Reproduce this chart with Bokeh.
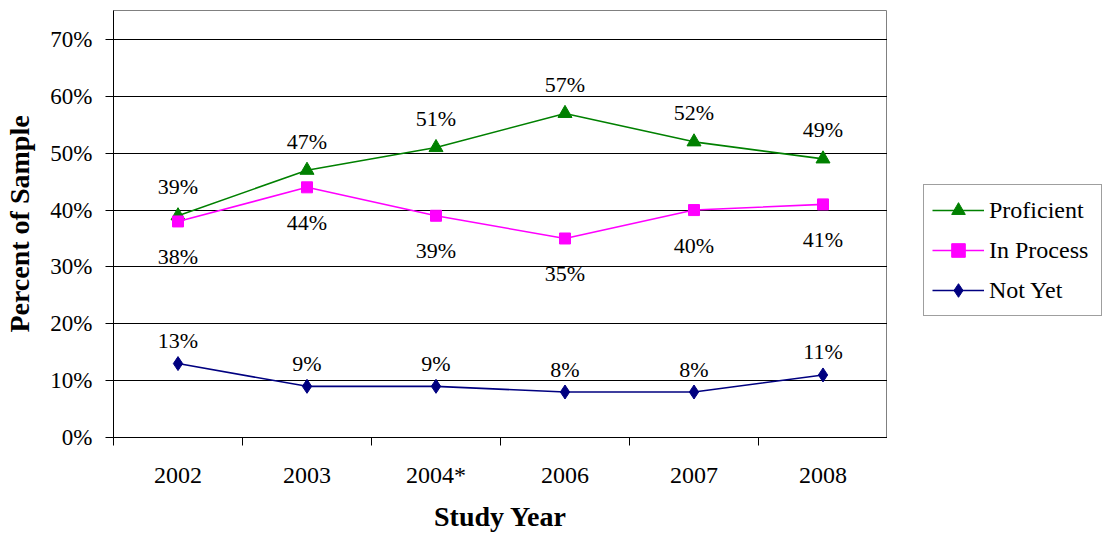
from bokeh.plotting import figure
from bokeh.layouts import row
from bokeh.models import ColumnDataSource, FixedTicker, Range1d, Legend, LegendItem
from bokeh.core.properties import value
from bokeh.embed import file_html
from bokeh.resources import INLINE

years = ["2002", "2003", "2004*", "2006", "2007", "2008"]
proficient = [39, 47, 51, 57, 52, 49]
in_process = [38, 44, 39, 35, 40, 41]
not_yet = [13, 9, 9, 8, 8, 11]
y_ticks = [0, 10, 20, 30, 40, 50, 60, 70]

FONT = "Liberation Serif"
xs = [i + 0.5 for i in range(len(years))]

p = figure(width=887, height=536, output_backend="svg", toolbar_location=None,
           x_range=Range1d(0, len(years)), y_range=Range1d(0, 75.1),
           min_border_left=113, min_border_top=10, min_border_bottom=99, min_border_right=0)
p.background_fill_color = "white"
p.outline_line_color = "#808080"
p.outline_line_width = 1

# x axis: labels at category centres, ticks at category boundaries
p.xaxis.ticker = FixedTicker(ticks=xs, minor_ticks=list(range(len(years) + 1)))
p.xaxis.major_label_overrides = {x: y for x, y in zip(xs, years)}
p.xaxis.major_tick_line_color = None
p.xaxis.major_tick_out = 8
p.xaxis.major_tick_in = 0
p.xaxis.minor_tick_out = 8
p.xaxis.minor_tick_in = 0
p.xaxis.minor_tick_line_color = "black"
p.xaxis.major_label_standoff = 16
p.xaxis.axis_label = "Study Year"
p.xaxis.axis_label_standoff = 10

p.yaxis.ticker = FixedTicker(ticks=y_ticks)
p.yaxis.major_label_overrides = {v: f"{v}%" for v in y_ticks}
p.yaxis.major_tick_out = 8
p.yaxis.major_tick_in = 0
p.yaxis.minor_tick_line_color = None
p.yaxis.major_label_standoff = 13
p.yaxis.axis_label = "Percent of Sample"
p.yaxis.axis_label_standoff = 12

for ax in (p.xaxis, p.yaxis):
    ax.axis_line_color = "black"
    ax.axis_line_width = 1
    ax.major_tick_line_width = 1
    ax.major_label_text_font = FONT
    ax.major_label_text_font_size = "23px"
    ax.major_label_text_color = "black"
    ax.axis_label_text_font = FONT
    ax.axis_label_text_font_size = "28px"
    ax.axis_label_text_font_style = "bold"
    ax.axis_label_text_color = "black"
p.xaxis.major_label_text_font_size = "24px"

p.xgrid.grid_line_color = None
p.ygrid.ticker = FixedTicker(ticks=y_ticks[1:])
p.ygrid.grid_line_color = "black"
p.ygrid.grid_line_width = 1

series = [
    ("Proficient", proficient, "#008000", "triangle", -29, 14),
    ("In Process", in_process, "#FF00FF", "square", 35, 11),
    ("Not Yet", not_yet, "#000080", "diamond", -23, 14),
]

# legend lives in a side figure next to the chart; its view range lies away
# from the data so only the legend itself shows
lg = figure(width=216, height=536, output_backend="svg", toolbar_location=None,
            x_range=Range1d(100, 101), y_range=Range1d(100, 101),
            x_axis_location=None, y_axis_location=None, min_border=0)
lg.outline_line_color = None
lg.grid.grid_line_color = None

items = []
for name, vals, color, marker, off, msize in series:
    src = ColumnDataSource(dict(x=xs, y=vals, lab=[f"{v}%" for v in vals]))
    p.line("x", "y", source=src, line_color=color, line_width=1.6)
    p.scatter("x", "y", source=src, marker=marker, size=msize,
              fill_color=color, line_color=color)
    p.text("x", "y", text="lab", source=src, y_offset=off,
           text_align="center", text_baseline="middle",
           text_font=value(FONT), text_font_size="22px", text_color="black")
    l1 = lg.line("x", "y", source=src, line_color=color, line_width=1.6)
    l2 = lg.scatter("x", "y", source=src, marker=marker, size=msize,
                    fill_color=color, line_color=color)
    items.append(LegendItem(label=name, renderers=[l1, l2]))

legend = Legend(items=items, location=(36, 121))
legend.label_text_font = FONT
legend.label_text_font_size = "24px"
legend.label_text_color = "black"
legend.glyph_width = 52
legend.glyph_height = 34
legend.label_height = 34
legend.label_width = 104
legend.spacing = 6
legend.padding = 8
legend.margin = 0
legend.label_standoff = 5
legend.border_line_color = "#404040"
legend.border_line_width = 1
legend.background_fill_color = "white"
legend.background_fill_alpha = 1
lg.add_layout(legend, "center")

layout = row(p, lg, spacing=0)
open("out.html", "w").write(file_html(layout, INLINE))
